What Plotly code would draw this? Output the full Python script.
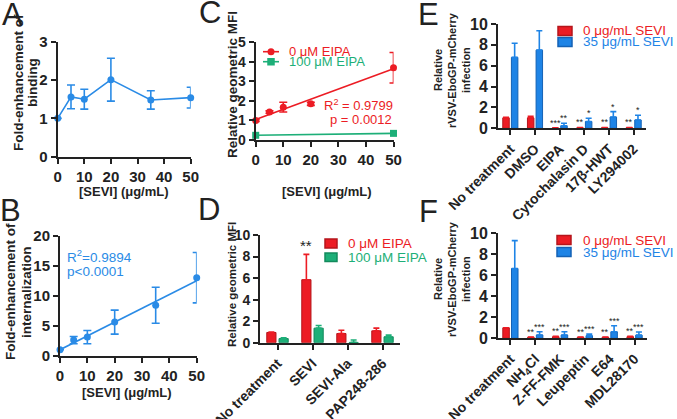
import plotly.graph_objects as go

W, H = 677, 419

# ---------------- data ----------------
# Panel A
a_x = [0, 5, 10, 20, 35, 50]
a_y = [1.0, 1.56, 1.5, 2.01, 1.48, 1.54]
a_err = [0.0, 0.31, 0.26, 0.56, 0.24, 0.27]

# Panel B
b_x = [0, 5, 10, 20, 35, 50]
b_y = [1.0, 2.6, 3.1, 5.6, 8.4, 13.0]
b_err = [0.0, 0.6, 1.1, 2.0, 3.0, 4.2]
b_fit_x = [0, 50]
b_fit_y = [1.0, 12.5]

# Panel C
c_x = [0, 5, 10, 20, 50]
c_red = [1.0, 1.43, 1.68, 1.85, 3.7]
c_red_err = [0.05, 0.06, 0.25, 0.08, 0.78]
c_fit_x = [0, 50]
c_fit_y = [1.05, 3.64]
c_green_x = [0, 50]
c_green = [0.24, 0.34]

# Panel D
d_cats = ["No treatment", "SEVI", "SEVI-Ala", "PAP248-286"]
d_red = [0.95, 5.85, 0.85, 1.1]
d_red_err = [0.05, 2.35, 0.3, 0.25]
d_green = [0.38, 1.35, 0.03, 0.55]
d_green_err = [0.07, 0.25, 0.22, 0.15]
d_red_stars = ["", "**", "", ""]

# Panel E
e_cats = ["No treatment", "DMSO", "EIPA", "Cytochalasin D", "17β-HWT", "LY294002"]
e_red = [1.0, 1.0, 0.03, 0.05, 0.05, 0.05]
e_red_err = [0.05, 0.15, 0.02, 0.03, 0.03, 0.03]
e_blue = [6.8, 7.5, 0.25, 0.65, 1.08, 0.8]
e_blue_err = [1.35, 1.85, 0.23, 0.32, 0.52, 0.45]
e_red_stars = ["", "", "***", "**", "**", "**"]
e_blue_stars = ["", "", "**", "*", "*", "*"]

# Panel F
f_cats = ["No treatment", "NH<sub>4</sub>Cl", "Z-FF-FMK", "Leupeptin", "E64", "MDL28170"]
f_red = [1.0, 0.1, 0.15, 0.1, 0.1, 0.15]
f_red_err = [0.0, 0.03, 0.05, 0.03, 0.03, 0.05]
f_blue = [6.65, 0.32, 0.32, 0.25, 0.62, 0.3]
f_blue_err = [2.65, 0.3, 0.3, 0.15, 0.58, 0.3]
f_red_stars = ["", "**", "**", "**", "**", "**"]
f_blue_stars = ["", "***", "***", "***", "***", "***"]

# ---------------- styles ----------------
FONT = "Liberation Sans"
BLUE = "#2A8BE6"
RED = "#EC1C24"
RED_D = "#B5151B"
GREEN = "#1DAF78"
GREEN_D = "#138A5C"
BBLUE = "#1E84E6"
BBLUE_D = "#1462B5"
AX = "#222222"


def dx(x0, x1):
    return [x0 / W, x1 / W]


def dy(y0, y1):
    return [1 - y1 / H, 1 - y0 / H]


def px(x):
    return x / W


def py(y):
    return 1 - y / H


fig = go.Figure()

# A
fig.add_trace(go.Scatter(x=a_x, y=a_y, mode="lines+markers", xaxis="x", yaxis="y",
                         line=dict(color=BLUE, width=1.6), marker=dict(color=BLUE, size=7),
                         error_y=dict(type="data", array=a_err, color=BLUE, thickness=1.6, width=4),
                         cliponaxis=False, showlegend=False))
# B
fig.add_trace(go.Scatter(x=b_fit_x, y=b_fit_y, mode="lines", xaxis="x2", yaxis="y2",
                         line=dict(color=BLUE, width=1.6), cliponaxis=False, showlegend=False))
fig.add_trace(go.Scatter(x=b_x, y=b_y, mode="markers", xaxis="x2", yaxis="y2",
                         marker=dict(color=BLUE, size=7),
                         error_y=dict(type="data", array=b_err, color=BLUE, thickness=1.6, width=4),
                         cliponaxis=False, showlegend=False))
# C
fig.add_trace(go.Scatter(x=c_fit_x, y=c_fit_y, mode="lines", xaxis="x3", yaxis="y3",
                         line=dict(color=RED, width=1.6), cliponaxis=False, showlegend=False))
fig.add_trace(go.Scatter(x=c_x, y=c_red, mode="markers", xaxis="x3", yaxis="y3",
                         marker=dict(color=RED, size=7),
                         error_y=dict(type="data", array=c_red_err, color=RED, thickness=1.6, width=4),
                         cliponaxis=False, showlegend=False))
fig.add_trace(go.Scatter(x=c_green_x, y=c_green, mode="lines+markers", xaxis="x3", yaxis="y3",
                         line=dict(color=GREEN, width=1.6), marker=dict(color=GREEN, size=7, symbol="square"),
                         cliponaxis=False, showlegend=False))


def bars(cats_n, vals, errs, fill, edge, xa, ya):
    return go.Bar(x=cats_n, y=vals, xaxis=xa, yaxis=ya, showlegend=False,
                  marker=dict(color=fill, line=dict(color=edge, width=1)),
                  error_y=dict(type="data", symmetric=False, array=errs,
                               arrayminus=[0] * len(errs), color=fill, thickness=1.6, width=3))


d_idx = list(range(len(d_cats)))
e_idx = list(range(len(e_cats)))
f_idx = list(range(len(f_cats)))

fig.add_trace(bars(d_idx, d_red, d_red_err, RED, RED_D, "x4", "y4"))
fig.add_trace(bars(d_idx, d_green, d_green_err, GREEN, GREEN_D, "x4", "y4"))
fig.add_trace(bars(e_idx, e_red, e_red_err, RED, RED_D, "x5", "y5"))
fig.add_trace(bars(e_idx, e_blue, e_blue_err, BBLUE, BBLUE_D, "x5", "y5"))
fig.add_trace(bars(f_idx, f_red, f_red_err, RED, RED_D, "x6", "y6"))
fig.add_trace(bars(f_idx, f_blue, f_blue_err, BBLUE, BBLUE_D, "x6", "y6"))


def axis(domain, anchor, rng, size=15, **kw):
    d = dict(domain=domain, anchor=anchor, range=rng, showline=True, linecolor=AX, linewidth=2,
             ticks="outside", ticklen=5, tickwidth=2, tickcolor=AX, showgrid=False, zeroline=False,
             automargin=False, fixedrange=True,
             tickfont=dict(family=FONT, size=size, color=AX, weight="bold"))
    d.update(kw)
    return d


lin_x = dict(tickmode="array", tickvals=[0, 10, 20, 30, 40, 50])

layout = dict(
    width=W, height=H, margin=dict(l=0, r=0, t=0, b=0, autoexpand=False),
    paper_bgcolor="white", plot_bgcolor="white", hovermode=False,
    barmode="group", bargap=0.3, bargroupgap=0.25,
    xaxis=axis(dx(57.7, 190.7), "y", [0, 50], **lin_x),
    yaxis=axis(dy(41.7, 156.7), "x", [0, 3], tickvals=[0, 1, 2, 3]),
    xaxis2=axis(dx(60, 196.7), "y2", [0, 50], **lin_x),
    yaxis2=axis(dy(235.7, 355.7), "x2", [0, 20], tickvals=[0, 5, 10, 15, 20]),
    xaxis3=axis(dx(255.7, 393.5), "y3", [0, 50], **lin_x),
    yaxis3=axis(dy(42.3, 140), "x3", [0, 5], size=14, tickvals=[0, 1, 2, 3, 4, 5]),
    xaxis4=axis(dx(260, 400), "y4", [-0.5, len(d_cats) - 0.5], size=14, tickangle=-45,
                tickvals=d_idx, ticktext=d_cats),
    yaxis4=axis(dy(235, 342.7), "x4", [0, 10], size=14, tickvals=[0, 2, 4, 6, 8, 10]),
    xaxis5=axis(dx(498, 646), "y5", [-0.5, len(e_cats) - 0.5], size=14, tickangle=-45,
                tickvals=e_idx, ticktext=e_cats),
    yaxis5=axis(dy(24, 128.3), "x5", [0, 10], size=16, tickvals=[0, 2, 4, 6, 8, 10]),
    xaxis6=axis(dx(498, 647), "y6", [-0.5, len(f_cats) - 0.5], size=14, tickangle=-45,
                tickvals=f_idx, ticktext=f_cats),
    yaxis6=axis(dy(233.3, 338.3), "x6", [0, 10], size=16, tickvals=[0, 2, 4, 6, 8, 10]),
)

annotations = []
shapes = []


def txt(text, x, y, size, color=AX, bold=False, angle=0, xanchor="center", yanchor="middle"):
    annotations.append(dict(text=text, x=px(x), y=py(y), xref="paper", yref="paper",
                            showarrow=False, textangle=angle, xanchor=xanchor, yanchor=yanchor,
                            font=dict(family=FONT, size=size, color=color,
                                      weight="bold" if bold else "normal")))


# panel letters
for letter, x, y in [("A", 12, 14), ("B", 11, 210), ("C", 210, 13), ("D", 209, 209),
                     ("E", 428, 15), ("F", 428, 212)]:
    txt(letter, x, y, 31)

# axis titles
txt("[SEVI] (μg/mL)", 123.5, 192, 13, bold=True)
txt("[SEVI] (μg/mL)", 127.5, 392, 13, bold=True)
txt("[SEVI] (μg/mL)", 327, 192, 13, bold=True)
txt("Fold-enhancement of", 18, 83, 13.5, bold=True, angle=-90)
txt("binding", 32, 83, 13.5, bold=True, angle=-90)
txt("Fold-enhancement of", 10, 292, 13.5, bold=True, angle=-90)
txt("internalization", 26, 292, 13.5, bold=True, angle=-90)
txt("Relative geometric MFI", 232, 85, 13.5, bold=True, angle=-90)
txt("Relative geometric MFI", 232, 285, 11.5, bold=True, angle=-90)
for yc in (70, 279):
    txt("Relative", 438, yc, 11, bold=True, angle=-90)
    txt("rVSV-EboGP-mCherry", 452, yc, 11, bold=True, angle=-90)
    txt("infection", 466, yc, 11, bold=True, angle=-90)

# stats text
txt("R<sup>2</sup>=0.9894", 65, 256, 13.5, color=BLUE, xanchor="left")
txt("p<0.0001", 65, 271, 13.5, color=BLUE, xanchor="left")
txt("R<sup>2</sup> = 0.9799", 395, 105, 13, color=RED, xanchor="right")
txt("p = 0.0012", 394, 119, 13, color=RED, xanchor="right")

# significance stars (data coordinates)
OFF = 0.175


def stars(labels, vals, errs, xa, ya, shift, size):
    for i, s in enumerate(labels):
        if s:
            annotations.append(dict(text=s, x=i + shift, y=vals[i] + errs[i], xref=xa, yref=ya,
                                    showarrow=False, xanchor="center", yanchor="bottom", yshift=-2,
                                    font=dict(family=FONT, size=size, color=AX)))


stars(d_red_stars, d_red, d_red_err, "x4", "y4", -OFF, 15)
stars(e_red_stars, e_red, e_red_err, "x5", "y5", -OFF, 9)
stars(e_blue_stars, e_blue, e_blue_err, "x5", "y5", OFF, 9)
stars(f_red_stars, f_red, f_red_err, "x6", "y6", -OFF, 9)
stars(f_blue_stars, f_blue, f_blue_err, "x6", "y6", OFF, 9)


# manual legends
def rect(x0, y0, x1, y1, fill, edge):
    shapes.append(dict(type="rect", xref="paper", yref="paper", x0=px(x0), x1=px(x1),
                       y0=py(y1), y1=py(y0), fillcolor=fill, line=dict(color=edge, width=1.5)))


# C legend
shapes.append(dict(type="line", xref="paper", yref="paper", x0=px(263), x1=px(279), y0=py(51.7), y1=py(51.7),
                   line=dict(color=RED, width=1.6)))
shapes.append(dict(type="circle", xref="paper", yref="paper", x0=px(267.5), x1=px(274.5), y0=py(55.2), y1=py(48.2),
                   fillcolor=RED, line=dict(color=RED, width=0)))
shapes.append(dict(type="line", xref="paper", yref="paper", x0=px(263), x1=px(279), y0=py(61.7), y1=py(61.7),
                   line=dict(color=GREEN, width=1.6)))
rect(268, 58.7, 274, 64.7, GREEN, GREEN)
txt("0 μM EIPA", 287, 51.7, 13, color=RED, xanchor="left")
txt("100 μM EIPA", 287, 61.7, 13, color=GREEN, xanchor="left")

# D legend
rect(325, 239, 337, 248, RED, RED_D)
rect(325, 253, 337, 261.5, GREEN, GREEN_D)
txt("0 μM EIPA", 346, 243.5, 13.5, color=RED, xanchor="left")
txt("100 μM EIPA", 346, 257, 13.5, color=GREEN, xanchor="left")

# E legend
rect(558, 26.5, 572, 35.5, RED, RED_D)
rect(558, 37.5, 572, 46.5, BBLUE, BBLUE_D)
txt("0 μg/mL SEVI", 581, 31, 13.5, color=RED, xanchor="left")
txt("35 μg/mL SEVI", 581, 42, 13.5, color=BBLUE, xanchor="left")

# F legend
rect(557, 235.5, 571, 244.5, RED, RED_D)
rect(557, 247.5, 571, 256.5, BBLUE, BBLUE_D)
txt("0 μg/mL SEVI", 581, 240, 13.5, color=RED, xanchor="left")
txt("35 μg/mL SEVI", 581, 252, 13.5, color=BBLUE, xanchor="left")

layout["annotations"] = annotations
layout["shapes"] = shapes
fig.update_layout(**layout)
fig.write_html("out.html", config={"displayModeBar": False, "staticPlot": True},
               post_script="document.body.style.margin='0';document.body.style.overflow='hidden';")
